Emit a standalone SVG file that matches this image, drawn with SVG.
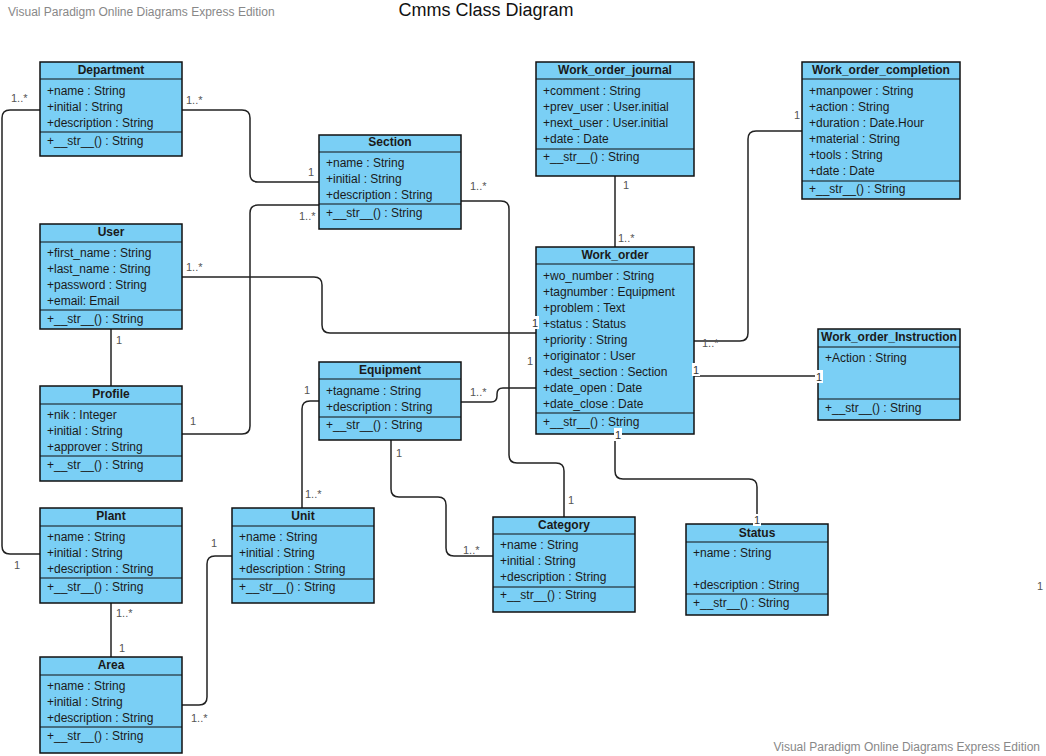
<svg xmlns="http://www.w3.org/2000/svg" width="1046" height="756" viewBox="0 0 1046 756">
<style>
.box{fill:#7acff5;stroke:#111;stroke-width:1.5}
.sep{stroke:#111;stroke-width:1.2}
.t{font-family:"Liberation Sans",Arial,sans-serif;font-size:12px;fill:#1a1a1a}
.h{font-family:"Liberation Sans",Arial,sans-serif;font-size:12px;font-weight:bold;fill:#1a1a1a;text-anchor:middle}
.c{fill:none;stroke:#222;stroke-width:1.5}
.l{font-family:"Liberation Sans",Arial,sans-serif;font-size:11px;fill:#555}
.lw{font-family:"Liberation Sans",Arial,sans-serif;font-size:11px;fill:#333}
.wm{font-family:"Liberation Sans",Arial,sans-serif;font-size:12px;fill:#888}
</style>
<rect width="1046" height="756" fill="#fff"/>
<text class="wm" x="8" y="16">Visual Paradigm Online Diagrams Express Edition</text>
<text x="486" y="16" text-anchor="middle" font-family="'Liberation Sans',Arial,sans-serif" font-size="18" fill="#111">Cmms Class Diagram</text>
<text class="wm" x="1040" y="751" text-anchor="end">Visual Paradigm Online Diagrams Express Edition</text>

<g id="connectors">
<path class="c" d="M182,110 H242 Q250,110 250,118 V174 Q250,182 258,182 H319"/>
<path class="c" d="M40,110 H10 Q2,110 2,118 V546 Q2,554 10,554 H40"/>
<path class="c" d="M319,205 H258 Q250,205 250,213 V426 Q250,434 242,434 H182"/>
<path class="c" d="M461,201 H501 Q509,201 509,209 V455 Q509,463 517,463 H556 Q564,463 564,471 V517"/>
<path class="c" d="M182,277 H314 Q322,277 322,285 V325 Q322,333 330,333 H536"/>
<path class="c" d="M111,329 V386"/>
<path class="c" d="M615,176 V247"/>
<path class="c" d="M802,131 H756 Q748,131 748,139 V333 Q748,341 740,341 H694"/>
<path class="c" d="M694,376 H818"/>
<path class="c" d="M461,402 H491 Q497,402 497,396 V394 Q497,388 503,388 H536"/>
<path class="c" d="M319,401 H310 Q302,401 302,409 V508"/>
<path class="c" d="M391,440 V489 Q391,497 399,497 H438 Q446,497 446,505 V548 Q446,556 454,556 H493"/>
<path class="c" d="M615,434 V471 Q615,479 623,479 H749 Q757,479 757,487 V524"/>
<path class="c" d="M111,603 V657"/>
<path class="c" d="M232,556 H215 Q207,556 207,564 V697 Q207,705 199,705 H182"/>
</g>

<g id="Department">
<rect class="box" x="40" y="62" width="142" height="94"/>
<line class="sep" x1="40" y1="79" x2="182" y2="79"/><line class="sep" x1="40" y1="132" x2="182" y2="132"/>
<text class="h" x="111" y="74">Department</text>
<text class="t" x="47" y="95">+name : String</text>
<text class="t" x="47" y="111">+initial : String</text>
<text class="t" x="47" y="127">+description : String</text>
<text class="t" x="47" y="145">+__str__() : String</text>
</g>

<g id="User">
<rect class="box" x="40" y="224" width="142" height="105"/>
<line class="sep" x1="40" y1="242" x2="182" y2="242"/><line class="sep" x1="40" y1="310" x2="182" y2="310"/>
<text class="h" x="111" y="236">User</text>
<text class="t" x="47" y="257">+first_name : String</text>
<text class="t" x="47" y="273">+last_name : String</text>
<text class="t" x="47" y="289">+password : String</text>
<text class="t" x="47" y="305">+email: Email</text>
<text class="t" x="47" y="323">+__str__() : String</text>
</g>

<g id="Section">
<rect class="box" x="319" y="135" width="142" height="94"/>
<line class="sep" x1="319" y1="152" x2="461" y2="152"/><line class="sep" x1="319" y1="204" x2="461" y2="204"/>
<text class="h" x="390" y="146">Section</text>
<text class="t" x="326" y="167">+name : String</text>
<text class="t" x="326" y="183">+initial : String</text>
<text class="t" x="326" y="199">+description : String</text>
<text class="t" x="326" y="217">+__str__() : String</text>
</g>

<g id="Work_order_journal">
<rect class="box" x="536" y="62" width="158" height="114"/>
<line class="sep" x1="536" y1="79" x2="694" y2="79"/><line class="sep" x1="536" y1="149" x2="694" y2="149"/>
<text class="h" x="615" y="74">Work_order_journal</text>
<text class="t" x="543" y="95">+comment : String</text>
<text class="t" x="543" y="111">+prev_user : User.initial</text>
<text class="t" x="543" y="127">+next_user : User.initial</text>
<text class="t" x="543" y="143">+date : Date</text>
<text class="t" x="543" y="161">+__str__() : String</text>
</g>

<g id="Work_order_completion">
<rect class="box" x="802" y="62" width="158" height="137"/>
<line class="sep" x1="802" y1="79" x2="960" y2="79"/><line class="sep" x1="802" y1="181" x2="960" y2="181"/>
<text class="h" x="881" y="74">Work_order_completion</text>
<text class="t" x="809" y="95">+manpower : String</text>
<text class="t" x="809" y="111">+action : String</text>
<text class="t" x="809" y="127">+duration : Date.Hour</text>
<text class="t" x="809" y="143">+material : String</text>
<text class="t" x="809" y="159">+tools : String</text>
<text class="t" x="809" y="175">+date : Date</text>
<text class="t" x="809" y="193">+__str__() : String</text>
</g>

<g id="Work_order">
<rect class="box" x="536" y="247" width="158" height="187"/>
<line class="sep" x1="536" y1="264" x2="694" y2="264"/><line class="sep" x1="536" y1="413" x2="694" y2="413"/>
<text class="h" x="615" y="259">Work_order</text>
<text class="t" x="543" y="280">+wo_number : String</text>
<text class="t" x="543" y="296">+tagnumber : Equipment</text>
<text class="t" x="543" y="312">+problem : Text</text>
<text class="t" x="543" y="328">+status : Status</text>
<text class="t" x="543" y="344">+priority : String</text>
<text class="t" x="543" y="360">+originator : User</text>
<text class="t" x="543" y="376">+dest_section : Section</text>
<text class="t" x="543" y="392">+date_open : Date</text>
<text class="t" x="543" y="408">+date_close : Date</text>
<text class="t" x="543" y="426">+__str__() : String</text>
</g>

<g id="Work_order_Instruction">
<rect class="box" x="818" y="329" width="142" height="91"/>
<line class="sep" x1="818" y1="347" x2="960" y2="347"/><line class="sep" x1="818" y1="399" x2="960" y2="399"/>
<text class="h" x="889" y="341">Work_order_Instruction</text>
<text class="t" x="825" y="362">+Action : String</text>
<text class="t" x="825" y="412">+__str__() : String</text>
</g>

<g id="Profile">
<rect class="box" x="40" y="386" width="142" height="95"/>
<line class="sep" x1="40" y1="404" x2="182" y2="404"/><line class="sep" x1="40" y1="456" x2="182" y2="456"/>
<text class="h" x="111" y="398">Profile</text>
<text class="t" x="47" y="419">+nik : Integer</text>
<text class="t" x="47" y="435">+initial : String</text>
<text class="t" x="47" y="451">+approver : String</text>
<text class="t" x="47" y="469">+__str__() : String</text>
</g>

<g id="Plant">
<rect class="box" x="40" y="508" width="142" height="95"/>
<line class="sep" x1="40" y1="526" x2="182" y2="526"/><line class="sep" x1="40" y1="578" x2="182" y2="578"/>
<text class="h" x="111" y="520">Plant</text>
<text class="t" x="47" y="541">+name : String</text>
<text class="t" x="47" y="557">+initial : String</text>
<text class="t" x="47" y="573">+description : String</text>
<text class="t" x="47" y="591">+__str__() : String</text>
</g>

<g id="Area">
<rect class="box" x="40" y="657" width="142" height="96"/>
<line class="sep" x1="40" y1="675" x2="182" y2="675"/><line class="sep" x1="40" y1="727" x2="182" y2="727"/>
<text class="h" x="111" y="669">Area</text>
<text class="t" x="47" y="690">+name : String</text>
<text class="t" x="47" y="706">+initial : String</text>
<text class="t" x="47" y="722">+description : String</text>
<text class="t" x="47" y="740">+__str__() : String</text>
</g>

<g id="Equipment">
<rect class="box" x="319" y="362" width="142" height="78"/>
<line class="sep" x1="319" y1="379" x2="461" y2="379"/><line class="sep" x1="319" y1="417" x2="461" y2="417"/>
<text class="h" x="390" y="374">Equipment</text>
<text class="t" x="326" y="395">+tagname : String</text>
<text class="t" x="326" y="411">+description : String</text>
<text class="t" x="326" y="429">+__str__() : String</text>
</g>

<g id="Unit">
<rect class="box" x="232" y="508" width="142" height="95"/>
<line class="sep" x1="232" y1="526" x2="374" y2="526"/><line class="sep" x1="232" y1="579" x2="374" y2="579"/>
<text class="h" x="303" y="520">Unit</text>
<text class="t" x="239" y="541">+name : String</text>
<text class="t" x="239" y="557">+initial : String</text>
<text class="t" x="239" y="573">+description : String</text>
<text class="t" x="239" y="591">+__str__() : String</text>
</g>

<g id="Category">
<rect class="box" x="493" y="517" width="142" height="95"/>
<line class="sep" x1="493" y1="534" x2="635" y2="534"/><line class="sep" x1="493" y1="587" x2="635" y2="587"/>
<text class="h" x="564" y="529">Category</text>
<text class="t" x="500" y="549">+name : String</text>
<text class="t" x="500" y="565">+initial : String</text>
<text class="t" x="500" y="581">+description : String</text>
<text class="t" x="500" y="599">+__str__() : String</text>
</g>

<g id="Status">
<rect class="box" x="686" y="524" width="142" height="91"/>
<line class="sep" x1="686" y1="542" x2="828" y2="542"/><line class="sep" x1="686" y1="594" x2="828" y2="594"/>
<text class="h" x="757" y="537">Status</text>
<text class="t" x="693" y="557">+name : String</text>
<text class="t" x="693" y="589">+description : String</text>
<text class="t" x="693" y="607">+__str__() : String</text>
</g>

<g id="labels">
<text class="l" x="186" y="104">1..*</text>
<text class="l" x="308" y="176">1</text>
<text class="l" x="11" y="102">1..*</text>
<text class="l" x="14" y="569">1</text>
<text class="l" x="299" y="220">1..*</text>
<text class="l" x="190" y="425">1</text>
<text class="l" x="470" y="190">1..*</text>
<text class="l" x="568" y="504">1</text>
<text class="l" x="186" y="271">1..*</text>
<text class="l" x="116" y="344">1</text>
<text class="l" x="623" y="189">1</text>
<text class="l" x="618" y="242">1..*</text>
<text class="l" x="794" y="119">1</text>
<text class="l" x="702" y="347">1..*</text>
<text class="l" x="470" y="396">1..*</text>
<text class="l" x="527" y="365">1</text>
<text class="l" x="304" y="394">1</text>
<text class="l" x="305" y="498">1..*</text>
<text class="l" x="396" y="457">1</text>
<text class="l" x="463" y="554">1..*</text>
<text class="l" x="116" y="617">1..*</text>
<text class="l" x="119" y="652">1</text>
<text class="l" x="211" y="547">1</text>
<text class="l" x="191" y="722">1..*</text>
<text class="l" x="1037" y="590">1</text>
<rect x="531" y="316" width="8" height="13" fill="#fff"/><text class="lw" x="532" y="327">1</text>
<rect x="692" y="363" width="8" height="13" fill="#fff"/><text class="lw" x="693" y="374">1</text>
<rect x="815" y="370" width="8" height="13" fill="#fff"/><text class="lw" x="816" y="381">1</text>
<rect x="614" y="428" width="8" height="13" fill="#fff"/><text class="lw" x="615" y="439">1</text>
<rect x="753" y="514" width="8" height="12" fill="#fff"/><text class="lw" x="754" y="524">1</text>
</g>
</svg>
